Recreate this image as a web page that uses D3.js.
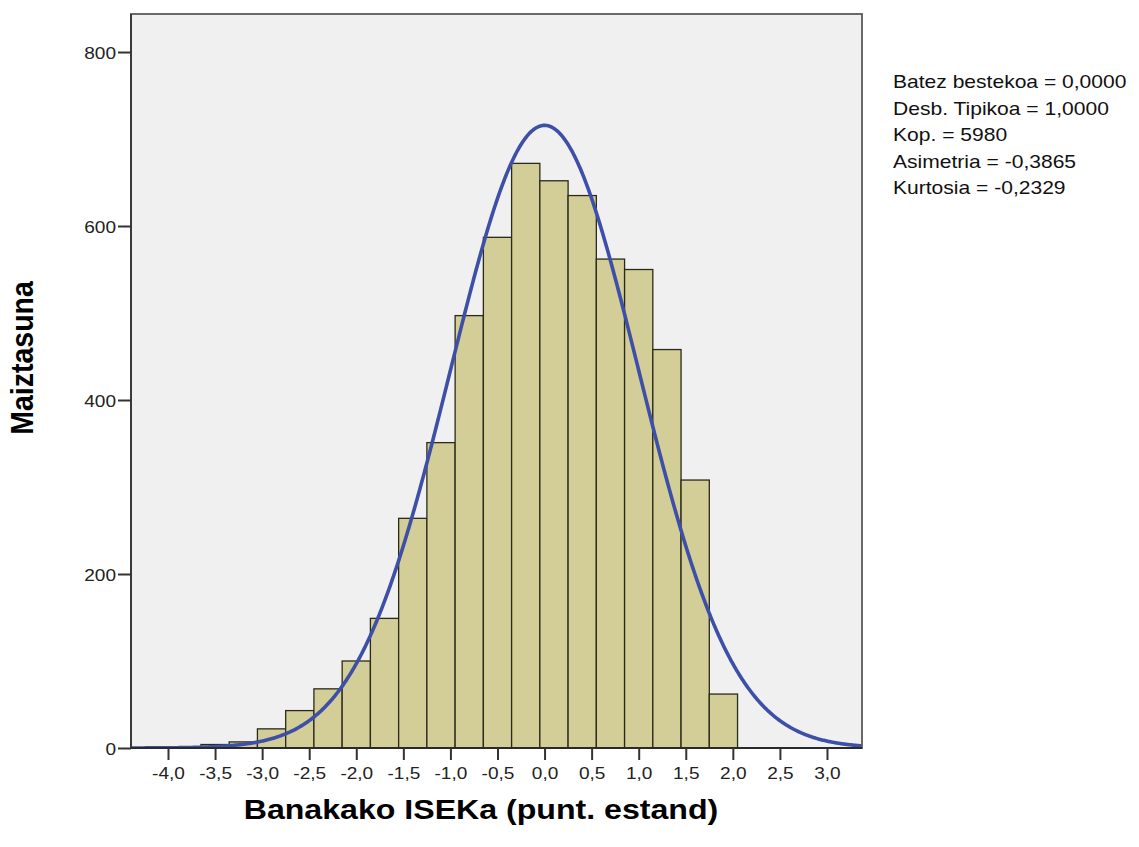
<!DOCTYPE html>
<html><head><meta charset="utf-8">
<script src="https://cdn.jsdelivr.net/npm/d3@7/dist/d3.min.js"></script>
<style>
body{margin:0;background:#fff;}
text{font-family:"Liberation Sans",Arial,sans-serif;}
</style>
</head><body>
<svg id="chart" width="1139" height="847"></svg>
<script>
// ---- data ----
const binLower = [-3.65,-3.35,-3.05,-2.75,-2.45,-2.15,-1.85,-1.55,-1.25,-0.95,-0.65,-0.35,-0.05,0.25,0.55,0.85,1.15,1.45,1.75];
const binWidth = 0.3;
const counts   = [4,7,22,43,68,100,149,264,351,497,587,672,652,635,562,550,458,308,62];
const xTicks = [-4.0,-3.5,-3.0,-2.5,-2.0,-1.5,-1.0,-0.5,0.0,0.5,1.0,1.5,2.0,2.5,3.0];
const yTicks = [0,200,400,600,800];
const statMean = 0.0, statSd = 1.0, statN = 5980;
const statLines = ["Batez bestekoa = 0,0000","Desb. Tipikoa = 1,0000","Kop. = 5980","Asimetria = -0,3865","Kurtosia = -0,2329"];
const xTitle = "Banakako ISEKa (punt. estand)";
const yTitle = "Maiztasuna";

// ---- layout ----
const L = 131, R = 862, T = 14, B = 748;
const SX = 1.19; // horizontal stretch of the original picture
const svg = d3.select("#chart");

const x = d3.scaleLinear().domain([-4.393, 3.372]).range([L, R]);
const y = d3.scaleLinear().domain([0, 843.7]).range([B, T]);

svg.append("rect").attr("x",L).attr("y",T).attr("width",R-L).attr("height",B-T)
  .attr("fill","#f0f0f0");

const clip = svg.append("clipPath").attr("id","pc").append("rect")
  .attr("x",L).attr("y",T).attr("width",R-L).attr("height",B-T);

// bars
svg.append("g").selectAll("rect").data(counts).join("rect")
  .attr("x",(d,i)=>x(binLower[i]))
  .attr("width",(d,i)=>x(binLower[i]+binWidth)-x(binLower[i]))
  .attr("y",d=>y(d))
  .attr("height",d=>y(0)-y(d))
  .attr("fill","#d3ce97")
  .attr("stroke","#2a2a1a")
  .attr("stroke-width",1.3);

// normal curve from the stated statistics
const pdf = v => Math.exp(-0.5*Math.pow((v-statMean)/statSd,2))/(statSd*Math.sqrt(2*Math.PI));
const xs = d3.range(x.domain()[0], x.domain()[1]+0.001, 0.01);
svg.append("path").datum(xs)
  .attr("clip-path","url(#pc)")
  .attr("fill","none")
  .attr("stroke","#3e4fa8")
  .attr("stroke-width",3.6)
  .attr("d", d3.line().x(v=>x(v)).y(v=>y(statN*binWidth*pdf(v))));

// frame
svg.append("rect").attr("x",L).attr("y",T).attr("width",R-L).attr("height",B-T)
  .attr("fill","none").attr("stroke","#5a5a5a").attr("stroke-width",1.8);
svg.append("line").attr("x1",L).attr("x2",L).attr("y1",T).attr("y2",B)
  .attr("stroke","#3a3a3a").attr("stroke-width",2);
svg.append("line").attr("x1",L).attr("x2",R).attr("y1",B).attr("y2",B)
  .attr("stroke","#2a2a2a").attr("stroke-width",2);

// y axis ticks
const yAxis = d3.axisLeft(y).tickValues(yTicks).tickSize(13).tickFormat(d=>d);
const gy = svg.append("g").attr("transform",`translate(${L},0)`).call(yAxis);
gy.select(".domain").remove();
gy.selectAll(".tick line").attr("stroke","#333").attr("stroke-width",2);
gy.selectAll(".tick text").remove();
gy.selectAll(".tick").append("text")
  .attr("transform",`translate(-15,6) scale(${SX},1)`)
  .attr("text-anchor","end").attr("fill","#222")
  .style("font-size","16px").text(d=>d);

// x axis ticks
const fmt = d => d.toFixed(1).replace(".",",");
const xAxis = d3.axisBottom(x).tickValues(xTicks).tickSize(12).tickFormat(fmt);
const gx = svg.append("g").attr("transform",`translate(0,${B})`).call(xAxis);
gx.select(".domain").remove();
gx.selectAll(".tick line").attr("stroke","#333").attr("stroke-width",2);
gx.selectAll(".tick text").remove();
gx.selectAll(".tick").append("text")
  .attr("transform",`translate(0,31) scale(${SX},1)`)
  .attr("text-anchor","middle").attr("fill","#222")
  .style("font-size","16px").text(fmt);

// stats text
svg.append("g").selectAll("text").data(statLines).join("text")
  .attr("transform",(d,i)=>`translate(893,${88+26.6*i}) scale(${SX},1)`)
  .attr("fill","#111").style("font-size","17.7px").text(d=>d);

// titles
svg.append("text")
  .attr("transform",`translate(481,819) scale(${SX},1)`)
  .attr("text-anchor","middle").attr("fill","#000")
  .style("font-size","27px").style("font-weight","bold").text(xTitle);
svg.append("text")
  .attr("transform",`translate(33,358) scale(1.12,1) rotate(-90)`)
  .attr("text-anchor","middle").attr("fill","#000")
  .style("font-size","28.5px").style("font-weight","bold").text(yTitle);
</script>
</body></html>
